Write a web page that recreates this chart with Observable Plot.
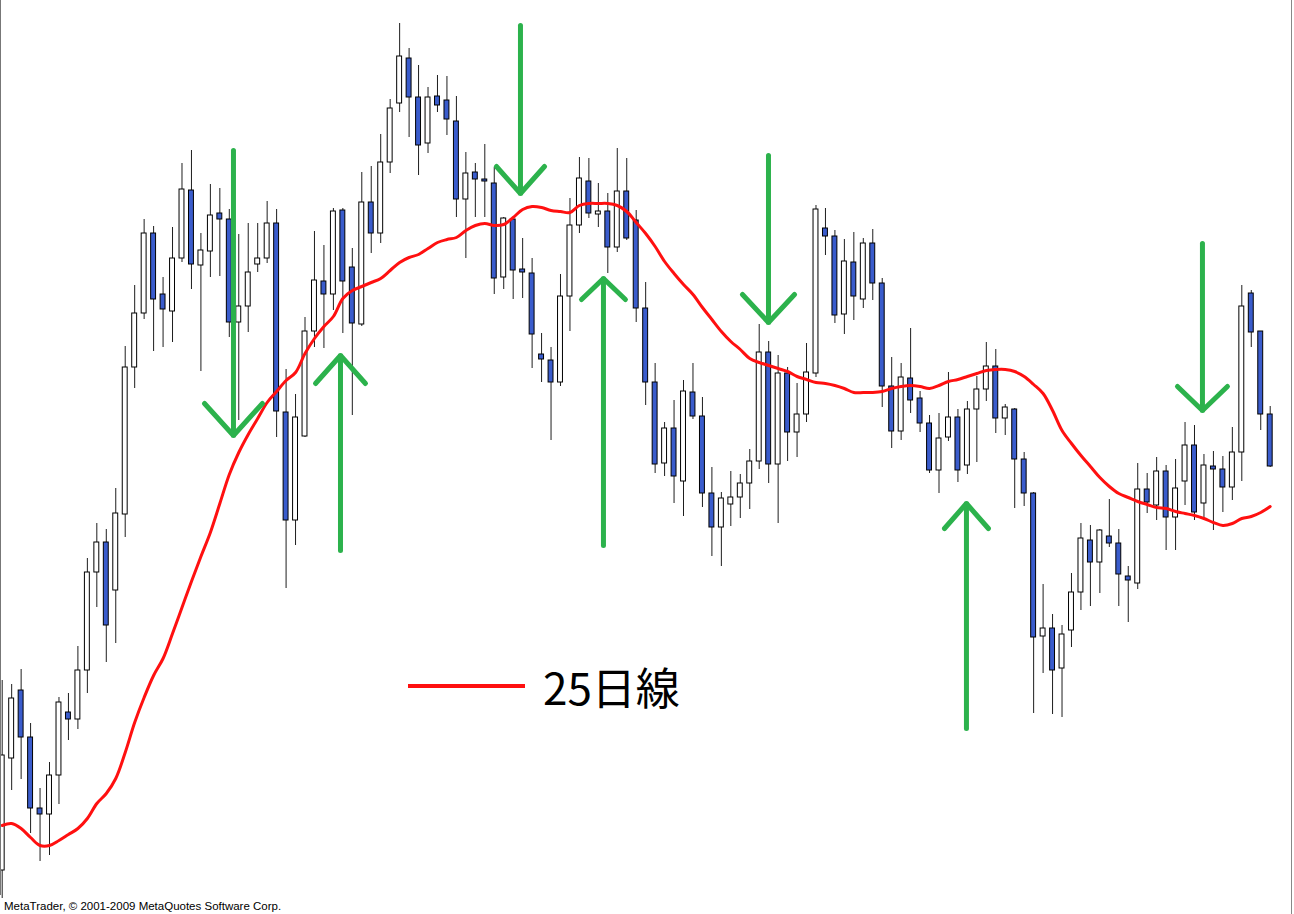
<!DOCTYPE html>
<html>
<head>
<meta charset="utf-8">
<script src="https://cdn.jsdelivr.net/npm/d3@7"></script>
<script src="https://cdn.jsdelivr.net/npm/@observablehq/plot@0.6"></script>
<style>
html, body { margin: 0; padding: 0; background: #fff; overflow: hidden; }
#wrap { position: relative; width: 1294px; height: 914px; overflow: hidden; }
#wrap svg { display: block; }
#edgeL { position: absolute; left: 0; top: 0; width: 1px; height: 895px; background: #777; }
#edgeR { position: absolute; left: 1291px; top: 0; width: 1px; height: 914px; background: #888; }
#legend { position: absolute; left: 408px; top: 660px; height: 52px; display: flex; align-items: center;
  font-family: "Noto Sans CJK JP", "Noto Sans", sans-serif; font-size: 44px; color: #000; }
#legend .sw { width: 117px; height: 4px; background: #ff1010; margin-right: 18px; }
#footer { position: absolute; left: 4px; top: 900px; font-family: "Liberation Sans", Arial, sans-serif;
  font-size: 11.5px; line-height: 13px; color: #000; white-space: nowrap; }
</style>
</head>
<body>
<div id="wrap">
  <div id="chart"></div>
  <div id="edgeL"></div>
  <div id="edgeR"></div>
  <div id="legend"><span class="sw"></span><span id="legendText"></span></div>
  <div id="footer"></div>
</div>
<script>
// ---- data (price points) ----
const open = [44,156,224,177,106,100,139,202,195,244,
  342,372,324,400,547,601,681,620,603,656,
  724,649,663,701,695,592,608,650,656,691,
  502,394,478,583,633,620,704,647,590,712,
  681,752,811,856,817,771,818,814,793,715,
  742,735,731,637,695,645,641,560,554,532,
  618,689,733,700,703,667,723,694,606,532,
  451,486,433,522,498,421,387,410,417,431,
  453,562,450,541,482,500,541,686,678,600,
  652,615,671,631,528,483,536,516,491,444,
  477,497,449,505,525,548,496,505,455,421,
  278,286,246,284,322,374,352,378,371,338,
  331,425,409,443,397,433,469,411,448,445,
  427,462,621,583,500];
const close = [159,216,177,106,100,139,212,195,244,342,
  372,289,401,547,601,681,615,605,656,725,
  650,664,699,695,592,608,642,656,691,503,
  394,497,583,634,620,703,633,591,712,681,
  752,806,858,817,769,817,809,795,715,741,
  735,733,636,696,644,642,580,555,532,618,
  689,736,701,703,667,723,676,606,532,450,
  486,438,523,498,421,387,416,417,431,453,
  562,450,541,482,500,542,705,678,599,653,
  618,671,631,528,483,537,514,491,444,476,
  497,444,505,525,548,496,507,455,421,277,
  286,244,280,322,376,352,384,371,340,334,
  425,412,443,397,426,469,402,449,445,427,
  462,608,582,500,448];
const high = [234,230,245,191,126,152,217,221,268,356,
  391,385,426,568,629,695,688,637,687,751,
  764,681,730,726,705,680,691,691,713,705,
  545,520,597,683,669,706,706,666,742,748,
  780,815,891,866,849,827,839,838,818,762,
  751,770,747,697,697,676,656,581,567,640,
  716,757,756,731,721,766,756,704,632,551,
  492,514,534,551,517,447,422,443,440,465,
  590,573,559,547,531,571,709,706,684,675,
  682,676,685,636,557,551,586,523,499,501,
  542,505,513,538,572,565,510,506,462,422,
  330,300,289,341,391,389,385,415,385,348,
  451,441,457,449,455,492,489,460,463,458,
  487,629,624,583,508];
const low = [16,124,135,81,53,59,110,174,185,221,
  307,252,271,377,526,595,563,567,572,652,
  625,543,637,638,577,494,582,642,651,477,
  326,369,477,567,566,604,581,499,588,661,
  671,741,802,777,739,761,802,779,697,656,
  697,697,620,625,615,616,546,532,474,528,
  583,681,696,687,641,662,674,592,509,441,
  438,411,398,495,407,358,348,388,396,405,
  445,431,391,453,457,492,537,659,591,580,
  594,606,614,507,466,474,501,482,441,421,
  473,432,440,452,513,481,479,406,408,201,
  241,200,197,267,304,308,321,367,308,292,
  325,401,394,364,364,409,394,396,384,402,
  414,433,567,484,447];
// 25-day moving average at each candle
const ma25 = [89,91,86,77,69,69,74,80,86,96,
  111,121,136,162,192,217,239,256,281,307,
  333,358,382,411,440,462,480,496,512,523,
  534,542,561,576,588,598,616,624,628,632,
  636,644,652,657,660,666,672,675,677,684,
  689,691,689,690,697,705,708,707,704,703,
  702,709,711,711,711,709,703,692,681,668,
  653,641,630,620,607,595,583,573,565,556,
  552,549,546,543,538,535,532,531,529,526,
  522,522,522,523,526,528,529,528,526,529,
  533,535,538,541,544,545,545,543,538,530,
  521,504,484,471,459,448,437,428,421,417,
  413,410,407,406,403,401,399,396,392,389,
  391,396,398,402,408];
// green annotation arrows (candle index, tail price, tip price, head arm size)
const arrowX    = [24.44, 54.77, 80.98, 126.84, 35.75, 63.54, 101.9];
const arrowTail = [764, 889, 759, 671, 364, 369, 186];
const arrowTip  = [479, 721, 592, 504, 559, 636, 411];
const arrowArmX = [3.06, 2.54, 2.75, 2.64, 2.64, 2.32, 2.32];
const arrowArmY = [32, 27, 28, 24, 28, 21, 25];
const legendLabel = "25日線";
const footerText = "MetaTrader, © 2001-2009 MetaQuotes Software Corp.";

// ---- build tables ----
const candles = open.map((o, i) => ({
  i, open: o, close: close[i], high: high[i], low: low[i], ma: ma25[i],
  x1: i - 0.26, x2: i + 0.26,
  y1: Math.min(o, close[i]), y2: Math.max(o, close[i]),
  bull: close[i] >= o
}));
const arrows = arrowX.map((x, k) => ({x, tail: arrowTail[k], tip: arrowTip[k]}));
const heads = [];
arrowX.forEach((x, k) => {
  const dir = arrowTip[k] < arrowTail[k] ? 1 : -1; // arms go back towards tail
  const back = arrowTip[k] + dir * arrowArmY[k];
  heads.push({k, x: x - arrowArmX[k], y: back});
  heads.push({k, x: x, y: arrowTip[k]});
  heads.push({k, x: x + arrowArmX[k], y: back});
});

const chart = Plot.plot({
  width: 1294,
  height: 914,
  margin: 0,
  style: {background: "transparent", overflow: "hidden"},
  x: {domain: [0, 134], range: [1.7, 1269.7], axis: null},
  y: {domain: [0, 914], range: [914, 0], axis: null},
  marks: [
    Plot.ruleX(candles, {x: "i", y1: "low", y2: "high", stroke: "#1e1e1e", strokeWidth: 1}),
    Plot.rect(candles.filter(d => d.bull), {x1: "x1", x2: "x2", y1: "y1", y2: "y2", fill: "#ffffff", stroke: "#000", strokeWidth: 1}),
    Plot.rect(candles.filter(d => !d.bull), {x1: "x1", x2: "x2", y1: "y1", y2: "y2", fill: "#3a5ccc", stroke: "#000", strokeWidth: 1}),
    Plot.line(candles, {x: "i", y: "ma", stroke: "#ff1010", strokeWidth: 3, curve: "catmull-rom"}),
    Plot.link(arrows, {x1: "x", x2: "x", y1: "tail", y2: "tip", stroke: "#2cb24c", strokeWidth: 5, strokeLinecap: "round"}),
    Plot.line(heads, {x: "x", y: "y", z: "k", stroke: "#2cb24c", strokeWidth: 5, strokeLinecap: "round", strokeLinejoin: "miter"})
  ]
});
document.getElementById("chart").appendChild(chart);
document.getElementById("legendText").textContent = legendLabel;
document.getElementById("footer").textContent = footerText;
</script>
</body>
</html>
